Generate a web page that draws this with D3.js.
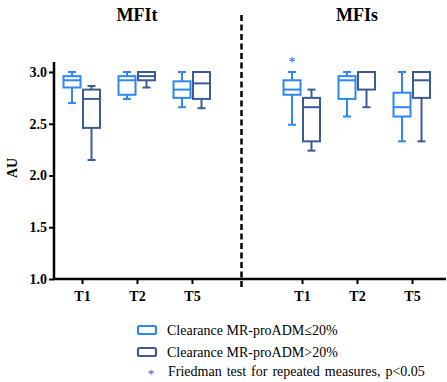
<!DOCTYPE html>
<html>
<head>
<meta charset="utf-8">
<script src="https://cdn.jsdelivr.net/npm/d3@7"></script>
<style>
body { margin: 0; background: #fff; }
</style>
</head>
<body>
<svg></svg>
<script>
//data
const panels = ["MFIt", "MFIs"];
const times = ["T1", "T2", "T5"];
const groups = ["Clearance MR-proADM\u226420%", "Clearance MR-proADM>20%"];
const yTicks = [1.0, 1.5, 2.0, 2.5, 3.0];

// [whiskerLow, q1, median, q3, whiskerHigh] for each panel x time
const lowClear = [
    [2.70, 2.85, 2.92, 2.96, 3.00], [2.74, 2.78, 2.92, 2.96, 3.00], [2.66, 2.75, 2.83, 2.91, 3.00],
    [2.49, 2.78, 2.83, 2.92, 3.00], [2.57, 2.74, 2.92, 2.96, 3.00], [2.33, 2.57, 2.66, 2.80, 3.00]
];
const highClear = [
    [2.15, 2.46, 2.74, 2.83, 2.865], [2.85, 2.92, 2.96, 3.00, 3.00], [2.65, 2.74, 2.89, 3.00, 3.00],
    [2.24, 2.33, 2.66, 2.75, 2.83], [2.66, 2.83, 3.00, 3.00, 3.00], [2.33, 2.75, 2.92, 3.00, 3.00]
];
const starred = [3]; // MFIs T1, light group
const starValue = 3.12;

//constants
const W = 447, H = 382;
const FONT = "Liberation Serif";
const colors = ["#2f86f6", "#3b5b94"];
const boxW = 17, capW = 8, offset = [-10, 9.5];

const svg = d3.select("svg").attr("width", W).attr("height", H);

//scales
const x = d3.scaleLinear().domain([0, 7]).range([82, 467]);
const y = d3.scaleLinear().domain([1.0, 3.0]).range([279, 72]);
const slots = [0, 1, 2, 4, 5, 6];

//axes
const yAxis = svg.append("g")
    .attr("transform", "translate(54,0)")
    .call(d3.axisLeft(y).tickValues(yTicks).tickFormat(d3.format(".1f")).tickSize(5).tickPadding(2).tickSizeOuter(0));
yAxis.select(".domain").attr("d", "M0," + y(1.0) + "V62").attr("stroke-width", 2.5);
yAxis.selectAll(".tick line").attr("stroke-width", 2);
yAxis.selectAll(".tick text")
    .style("font-family", FONT).style("font-size", "14px").style("font-weight", "bold")
    .attr("fill", "#000");

const xAxis = svg.append("g")
    .attr("transform", "translate(0," + y(1.0) + ")")
    .call(d3.axisBottom(x).tickValues(slots).tickFormat((d, i) => times[i % 3]).tickSize(5).tickPadding(7).tickSizeOuter(0));
xAxis.select(".domain").attr("d", "M53,0H446").attr("stroke-width", 2.5);
xAxis.selectAll(".tick line").attr("stroke-width", 2);
xAxis.selectAll(".tick text")
    .style("font-family", FONT).style("font-size", "14px").style("font-weight", "bold")
    .attr("fill", "#000");

//divider
svg.append("line")
    .attr("x1", x(2.9)).attr("x2", x(2.9))
    .attr("y1", 15).attr("y2", y(1.0) + 9)
    .attr("stroke", "#000").attr("stroke-width", 2.5)
    .attr("stroke-dasharray", "6,3.5");

//panel titles
panels.forEach((p, i) => {
    svg.append("text")
        .attr("x", x(i * 4 + 1)).attr("y", 21)
        .attr("text-anchor", "middle")
        .style("font-family", FONT).style("font-size", "18px").style("font-weight", "bold")
        .text(p);
});

//y label
svg.append("text")
    .attr("transform", "translate(17," + 168 + ") rotate(-90)")
    .attr("text-anchor", "middle")
    .style("font-family", FONT).style("font-size", "14px").style("font-weight", "bold")
    .text("AU");

//boxes
[lowClear, highClear].forEach((series, g) => {
    series.forEach((d, i) => {
        const cx = x(slots[i]) + offset[g];
        const box = svg.append("g")
            .attr("stroke", colors[g]).attr("stroke-width", 2).attr("fill", "none");
        box.append("line").attr("x1", cx).attr("x2", cx).attr("y1", y(d[0])).attr("y2", y(d[1]));
        box.append("line").attr("x1", cx).attr("x2", cx).attr("y1", y(d[3])).attr("y2", y(d[4]));
        box.append("line").attr("x1", cx - capW / 2).attr("x2", cx + capW / 2).attr("y1", y(d[0])).attr("y2", y(d[0]));
        box.append("line").attr("x1", cx - capW / 2).attr("x2", cx + capW / 2).attr("y1", y(d[4])).attr("y2", y(d[4]));
        box.append("rect")
            .attr("x", cx - boxW / 2).attr("width", boxW)
            .attr("y", y(d[3])).attr("height", y(d[1]) - y(d[3]))
            .attr("fill", "#fff");
        box.append("line").attr("x1", cx - boxW / 2).attr("x2", cx + boxW / 2).attr("y1", y(d[2])).attr("y2", y(d[2]));
    });
});

//significance
starred.forEach(i => {
    svg.append("text")
        .attr("x", x(slots[i]) + offset[0]).attr("y", y(starValue) + 7)
        .attr("text-anchor", "middle")
        .style("font-family", FONT).style("font-size", "14px")
        .attr("fill", "#3a50d8")
        .text("*");
});

//legend
const leg = svg.append("g").attr("transform", "translate(137,325)");
groups.forEach((g, i) => {
    leg.append("rect")
        .attr("x", 1).attr("y", i * 22 + 1).attr("width", 18).attr("height", 8).attr("rx", 1.5)
        .attr("fill", "#fff").attr("stroke", colors[i]).attr("stroke-width", 2.2);
    leg.append("text")
        .attr("x", 30).attr("y", i * 22 + 10)
        .style("font-family", FONT).style("font-size", "14px")
        .text(g);
});
leg.append("text")
    .attr("x", 14).attr("y", 53)
    .attr("text-anchor", "middle")
    .style("font-family", FONT).style("font-size", "13px")
    .attr("fill", "#3a50d8")
    .text("*");
leg.append("text")
    .attr("x", 31).attr("y", 51)
    .style("font-family", FONT).style("font-size", "14px")
    .style("word-spacing", "1.5px")
    .text("Friedman test for repeated measures, p<0.05");
</script>
</body>
</html>
